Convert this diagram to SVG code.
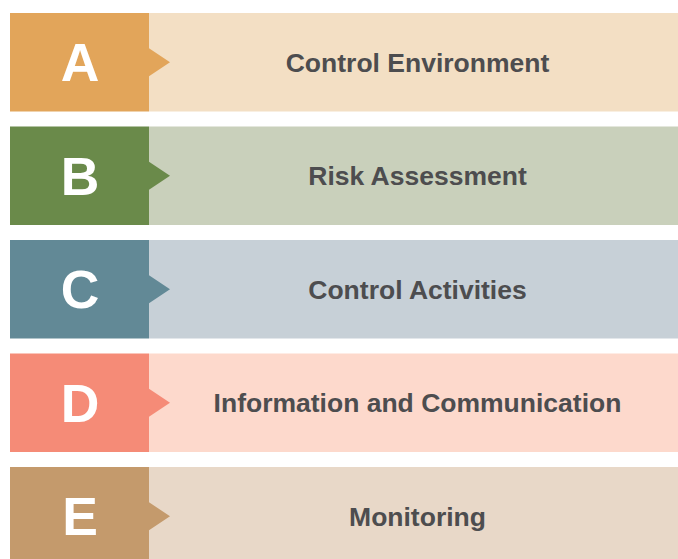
<svg xmlns="http://www.w3.org/2000/svg" width="678" height="559" viewBox="0 0 678 559">
<style>
.letter{font-family:"Liberation Sans",Arial,sans-serif;font-weight:bold;font-size:53.5px;fill:#ffffff;text-anchor:middle}
.label{font-family:"Liberation Sans",Arial,sans-serif;font-weight:bold;font-size:26.5px;fill:#4d4d4f;text-anchor:middle}
</style>
<rect width="678" height="559" fill="#ffffff"/>
<g id="node-A">
<rect x="149" y="13" width="529" height="98.5" fill="#f3dfc4"/>
<rect x="10" y="13" width="139" height="98.5" fill="#e2a55a"/>
<polygon points="149,48.25 170,62.25 149,76.25" fill="#e2a55a"/>
<text class="letter" x="80" y="81.25">A</text>
<text class="label" x="417.5" y="71.75">Control Environment</text>
</g>
<g id="node-B">
<rect x="149" y="126.5" width="529" height="98.5" fill="#c9d0bb"/>
<rect x="10" y="126.5" width="139" height="98.5" fill="#6a8a4a"/>
<polygon points="149,161.75 170,175.75 149,189.75" fill="#6a8a4a"/>
<text class="letter" x="80" y="194.75">B</text>
<text class="label" x="417.5" y="185.25">Risk Assessment</text>
</g>
<g id="node-C">
<rect x="149" y="240" width="529" height="98.5" fill="#c7d0d7"/>
<rect x="10" y="240" width="139" height="98.5" fill="#628996"/>
<polygon points="149,275.25 170,289.25 149,303.25" fill="#628996"/>
<text class="letter" x="80" y="308.25">C</text>
<text class="label" x="417.5" y="298.75">Control Activities</text>
</g>
<g id="node-D">
<rect x="149" y="353.5" width="529" height="98.5" fill="#fdd9cc"/>
<rect x="10" y="353.5" width="139" height="98.5" fill="#f58b77"/>
<polygon points="149,388.75 170,402.75 149,416.75" fill="#f58b77"/>
<text class="letter" x="80" y="421.75">D</text>
<text class="label" x="417.5" y="412.25">Information and Communication</text>
</g>
<g id="node-E">
<rect x="149" y="467" width="529" height="98.5" fill="#e8d8c8"/>
<rect x="10" y="467" width="139" height="98.5" fill="#c49a6c"/>
<polygon points="149,502.25 170,516.25 149,530.25" fill="#c49a6c"/>
<text class="letter" x="80" y="535.25">E</text>
<text class="label" x="417.5" y="525.75">Monitoring</text>
</g>
<g id="connectors"></g>
</svg>
